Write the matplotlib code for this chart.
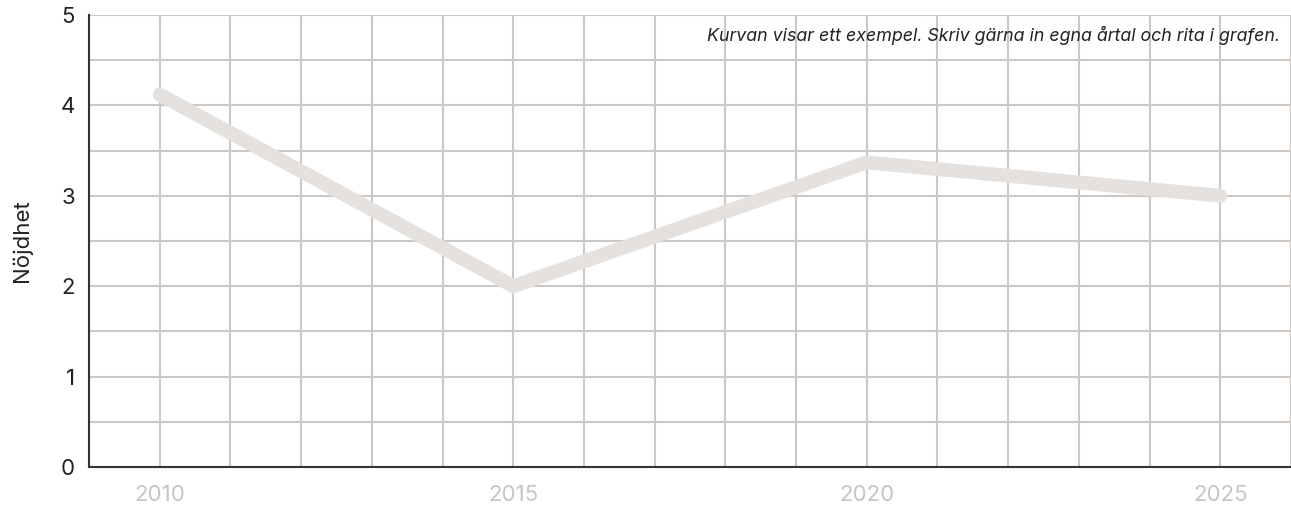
import matplotlib
matplotlib.use("Agg")
from matplotlib import pyplot as plt
import numpy as np

plt.rcParams['font.family'] = ['Inter', 'DejaVu Sans']

# Data
years = [2010, 2015, 2020, 2025]
nojdhet = [4.12, 2.0, 3.37, 3.0]
year_ticks = [2010, 2015, 2020, 2025]
y_ticks = [0, 1, 2, 3, 4, 5]
note = "Kurvan visar ett exempel. Skriv gärna in egna årtal och rita i grafen."

grid_col = '#cdc8c4'
line_col = '#e5e1de'

fig = plt.figure(figsize=(12.91, 5.07), dpi=100)
ax = fig.add_axes([89 / 1291, 40 / 507, 1202 / 1291, 452 / 507])

# grid: every year, every half unit
for yr in range(2009, 2027):
    ax.axvline(yr, color=grid_col, lw=1.5, zorder=1)
for v in np.arange(0.5, 5.01, 0.5):
    ax.axhline(v, color=grid_col, lw=1.5, zorder=1)

ax.plot(years, nojdhet, color=line_col, lw=10, solid_capstyle='round',
        solid_joinstyle='miter', zorder=3)

ax.set_xlim(2009, 2026)
ax.set_ylim(0, 5)
ax.set_xticks(year_ticks)
ax.set_yticks(y_ticks)
ax.tick_params(axis='x', length=0, pad=13, labelsize=16, labelcolor='#c8c4c0')
ax.tick_params(axis='y', length=0, pad=10, labelsize=16, labelcolor='#222222')

for s in ['top', 'right']:
    ax.spines[s].set_visible(False)
for s in ['left', 'bottom']:
    ax.spines[s].set_color('#333333')
    ax.spines[s].set_linewidth(1.5)
    ax.spines[s].set_zorder(4)

ax.set_ylabel("Nöjdhet", fontsize=16, color='#222222', labelpad=21)

ax.text(0.991, 0.954, note, transform=ax.transAxes, ha='right', va='center',
        fontsize=12.8, style='italic', color='#222222', zorder=5)

fig.savefig("out.png", dpi=100)
